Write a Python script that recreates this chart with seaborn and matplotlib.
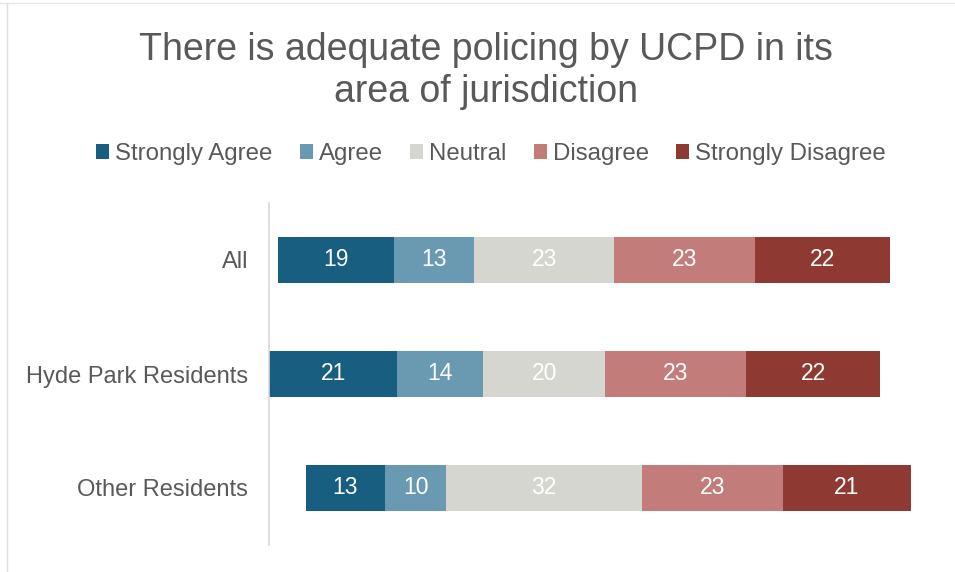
import matplotlib
matplotlib.use("Agg")
import matplotlib.pyplot as plt
from matplotlib.lines import Line2D
from matplotlib.patches import Patch
import seaborn as sns
import pandas as pd

groups = ["All", "Hyde Park Residents", "Other Residents"]
strongly_agree = [19, 21, 13]
agree = [13, 14, 10]
neutral = [23, 20, 32]
disagree = [23, 23, 23]
strongly_disagree = [22, 22, 21]

categories = ["Strongly Agree", "Agree", "Neutral", "Disagree", "Strongly Disagree"]
colors = ["#175E80", "#6A9AB2", "#D6D6D0", "#C27C79", "#8E3A33"]
title_lines = ["There is adequate policing by UCPD in its", "area of jurisdiction"]

sns.set_theme(style="white")
plt.rcParams["font.family"] = ["Liberation Sans", "DejaVu Sans"]
TXT = "#595959"

df = pd.DataFrame({
    "group": groups,
    "sa": strongly_agree, "a": agree, "n": neutral, "d": disagree, "sd": strongly_disagree,
})
# diverging layout centred on middle of neutral
df["neg_sa"] = -(df["n"] / 2 + df["a"] + df["sa"])
df["neg_a"] = -(df["n"] / 2 + df["a"])
df["neg_n"] = -(df["n"] / 2)
df["pos_sd"] = df["n"] / 2 + df["d"] + df["sd"]
df["pos_d"] = df["n"] / 2 + df["d"]
df["pos_n"] = df["n"] / 2

fig = plt.figure(figsize=(9.55, 5.72), dpi=100)
ax = fig.add_axes([269 / 955, 27 / 572, (914 - 269) / 955, (545 - 203) / 572])

layers = [("neg_sa", colors[0]), ("neg_a", colors[1]), ("neg_n", colors[2]),
          ("pos_sd", colors[4]), ("pos_d", colors[3]), ("pos_n", colors[2])]
for col, c in layers:
    sns.barplot(data=df, x=col, y="group", orient="h", color=c, width=0.4,
                linewidth=0, saturation=1, ax=ax, errorbar=None)

# labels at segment centres
for i, row in df.iterrows():
    starts = [row["neg_sa"], row["neg_a"], row["neg_n"], row["pos_n"], row["pos_d"]]
    vals = [row["sa"], row["a"], row["n"], row["d"], row["sd"]]
    for s, v in zip(starts, vals):
        ax.text(s + v / 2, i, f"{v:g}", ha="center", va="center",
                color="white", fontsize=16.5)

ax.set_xlim(-45, 60.5)
ax.set_ylim(2.5, -0.5)
ax.set_xlabel("")
ax.set_ylabel("")
ax.set_xticks([])
ax.tick_params(axis="y", length=0, pad=15, labelsize=17, labelcolor=TXT)
for s in ["top", "right", "bottom"]:
    ax.spines[s].set_visible(False)
ax.spines["left"].set_color("#D9D9D9")
ax.spines["left"].set_linewidth(1.2)

fig.text(486 / 955, 1 - 60 / 572, title_lines[0], ha="center", va="baseline",
         fontsize=27, color=TXT)
fig.text(486 / 955, 1 - 102 / 572, title_lines[1], ha="center", va="baseline",
         fontsize=27, color=TXT)

handles = [Patch(facecolor=c, edgecolor="none") for c in colors]
fig.legend(handles, categories, loc="center", bbox_to_anchor=(491 / 955, 1 - 154 / 572),
           ncol=5, frameon=False, fontsize=17.3, handlelength=0.55, handleheight=0.55,
           handletextpad=0.25, columnspacing=1.12, labelcolor=TXT)

# faint outer frame (top and left)
fig.add_artist(Line2D([0, 1], [1 - 3 / 572, 1 - 3 / 572], transform=fig.transFigure,
                      color="#E6E6E6", lw=1))
fig.add_artist(Line2D([7 / 955, 7 / 955], [0, 1 - 3 / 572], transform=fig.transFigure,
                      color="#E0E0E0", lw=1))

fig.savefig("out.png", dpi=100)
